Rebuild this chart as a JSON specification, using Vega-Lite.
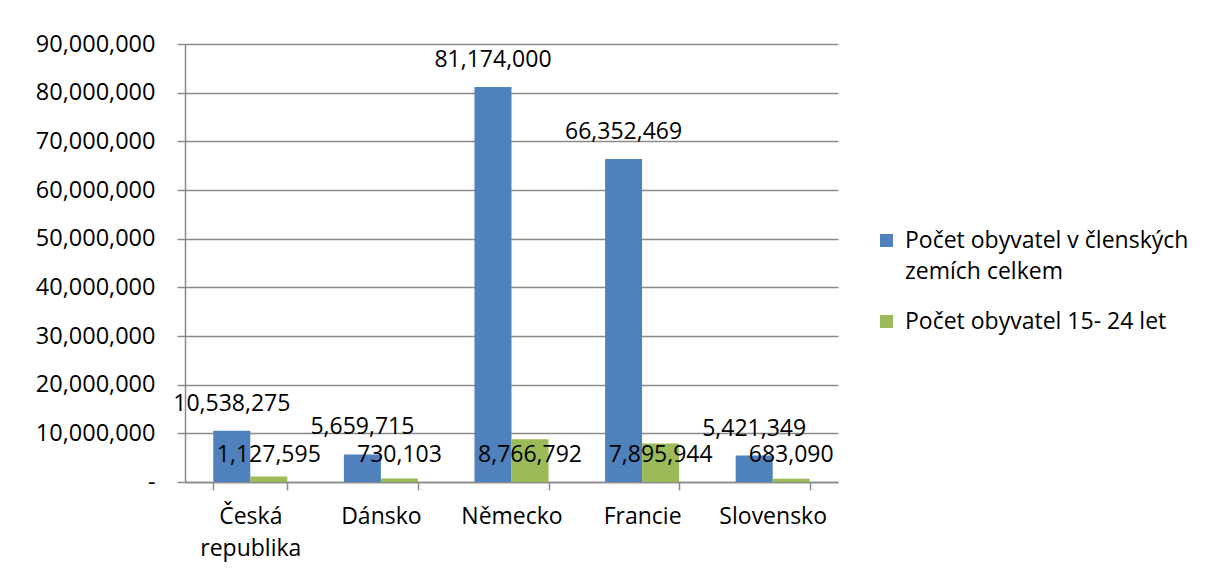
{
  "$schema": "https://vega.github.io/schema/vega-lite/v6.json",
  "width": 653,
  "height": 438,
  "autosize": "none",
  "padding": {"left": 185, "top": 44, "right": 368, "bottom": 90},
  "background": "white",
  "config": {"view": {"stroke": null}, "font": "Open Sans"},
  "data": {
    "values": [
      {"country": "Česká republika", "series": "Počet obyvatel v členských zemích celkem", "value": 10538275},
      {"country": "Česká republika", "series": "Počet obyvatel 15- 24 let", "value": 1127595},
      {"country": "Dánsko", "series": "Počet obyvatel v členských zemích celkem", "value": 5659715},
      {"country": "Dánsko", "series": "Počet obyvatel 15- 24 let", "value": 730103},
      {"country": "Německo", "series": "Počet obyvatel v členských zemích celkem", "value": 81174000},
      {"country": "Německo", "series": "Počet obyvatel 15- 24 let", "value": 8766792},
      {"country": "Francie", "series": "Počet obyvatel v členských zemích celkem", "value": 66352469},
      {"country": "Francie", "series": "Počet obyvatel 15- 24 let", "value": 7895944},
      {"country": "Slovensko", "series": "Počet obyvatel v členských zemích celkem", "value": 5421349},
      {"country": "Slovensko", "series": "Počet obyvatel 15- 24 let", "value": 683090}
    ]
  },
  "encoding": {
    "x": {
      "field": "country",
      "type": "nominal",
      "sort": ["Česká republika", "Dánsko", "Německo", "Francie", "Slovensko"],
      "scale": {"paddingInner": 0.433, "paddingOuter": 0.2165},
      "axis": {
        "title": null,
        "labelAngle": 0,
        "labelFontSize": 23,
        "labelColor": "#000000",
        "labelPadding": 15,
        "labelLineHeight": 32,
        "labelExpr": "datum.label == 'Česká republika' ? ['Česká', 'republika'] : datum.label",
        "tickBand": "extent",
        "tickSize": 8,
        "tickColor": "#8a8a8a",
        "tickWidth": 1.5,
        "domainColor": "#8a8a8a",
        "domainWidth": 1.5,
        "grid": false
      }
    },
    "xOffset": {
      "field": "series",
      "sort": ["Počet obyvatel v členských zemích celkem", "Počet obyvatel 15- 24 let"],
      "scale": {"paddingInner": 0, "paddingOuter": 0}
    }
  },
  "layer": [
    {
      "mark": {"type": "bar"},
      "encoding": {
        "y": {
          "field": "value",
          "type": "quantitative",
          "scale": {"domain": [0, 90000000], "nice": false},
          "axis": {
            "title": null,
            "values": [0, 10000000, 20000000, 30000000, 40000000, 50000000, 60000000, 70000000, 80000000, 90000000],
            "labelExpr": "datum.value == 0 ? '-\u00a0\u00a0' : format(datum.value, ',')",
            "labelFontSize": 23.5,
            "labelColor": "#000000",
            "labelPadding": 22,
            "tickSize": 8,
            "tickColor": "#8a8a8a",
            "tickWidth": 1.5,
            "domainColor": "#8a8a8a",
            "domainWidth": 1.5,
            "gridColor": "#8a8a8a",
            "gridWidth": 1.5
          }
        },
        "color": {
          "field": "series",
          "type": "nominal",
          "scale": {
            "domain": ["Počet obyvatel v členských zemích celkem", "Počet obyvatel 15- 24 let"],
            "range": ["#4F81BD", "#9BBB59"]
          },
          "legend": {
            "title": null,
            "orient": "none",
            "legendX": 690,
            "legendY": 185,
            "labelFontSize": 23,
            "labelColor": "#000000",
            "labelLimit": 400,
            "symbolType": "square",
            "symbolSize": 169,
            "symbolStrokeWidth": 0,
            "labelOffset": 7,
            "rowPadding": 26,
            "labelExpr": "datum.label == 'Počet obyvatel v členských zemích celkem' ? ['Počet obyvatel v členských', 'zemích celkem'] : datum.label",
            "encode": {"labels": {"update": {"lineHeight": {"value": 31}}}}
          }
        }
      }
    },
    {
      "transform": [{"filter": "datum.series == 'Počet obyvatel v členských zemích celkem'"}],
      "mark": {"type": "text", "fontSize": 23, "color": "#000000", "baseline": "middle", "dy": -27},
      "encoding": {
        "y": {"field": "value", "type": "quantitative"},
        "text": {"field": "value", "type": "quantitative", "format": ","}
      }
    },
    {
      "transform": [{"filter": "datum.series == 'Počet obyvatel 15- 24 let'"}],
      "mark": {"type": "text", "fontSize": 23, "color": "#000000", "baseline": "middle"},
      "encoding": {
        "y": {"datum": 5550000},
        "text": {"field": "value", "type": "quantitative", "format": ","}
      }
    }
  ]
}
